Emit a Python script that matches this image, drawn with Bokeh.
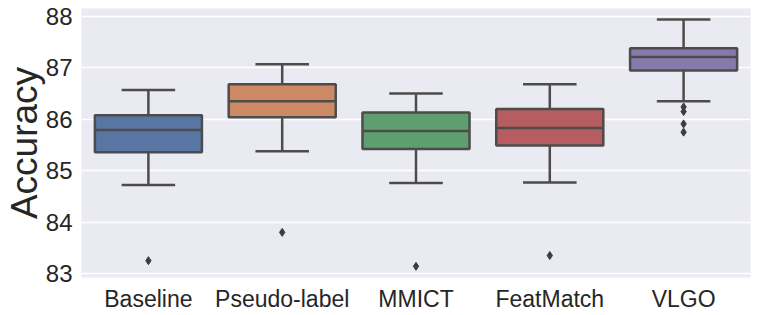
from bokeh.plotting import figure
from bokeh.models import FactorRange, Range1d, ColumnDataSource, FixedTicker
from bokeh.transform import dodge
from bokeh.embed import file_html
from bokeh.resources import INLINE

categories = ["Baseline", "Pseudo-label", "MMICT", "FeatMatch", "VLGO"]
whisker_low = [84.72, 85.38, 84.76, 84.77, 86.35]
q1 = [85.36, 86.04, 85.42, 85.49, 86.95]
median = [85.79, 86.35, 85.77, 85.83, 87.21]
q3 = [86.08, 86.68, 86.13, 86.20, 87.38]
whisker_high = [86.57, 87.07, 86.50, 86.68, 87.94]
outlier_cat = ["Baseline", "Pseudo-label", "MMICT", "FeatMatch", "VLGO", "VLGO", "VLGO", "VLGO"]
outlier_val = [83.25, 83.80, 83.14, 83.35, 86.24, 86.15, 85.91, 85.75]
colors = ["#5975a4", "#cc8963", "#5f9e6e", "#b55d60", "#857aab"]
y_ticks = [83, 84, 85, 86, 87, 88]

line_col = "#4c4c4c"
FONT = "Liberation Sans"

src = ColumnDataSource(dict(cat=categories, lo=whisker_low, q1=q1, med=median,
                            q3=q3, hi=whisker_high, color=colors))
osrc = ColumnDataSource(dict(cat=outlier_cat, val=outlier_val))

p = figure(x_range=FactorRange(*categories, range_padding=0.0),
           y_range=Range1d(82.922, 88.155),
           width=756, height=314, output_backend="svg", toolbar_location=None,
           min_border_top=8, min_border_right=6, min_border_bottom=37, min_border_left=81)

p.background_fill_color = "#eaeaf2"
p.border_fill_color = "white"
p.outline_line_color = None
p.xgrid.grid_line_color = None
p.ygrid.grid_line_color = "white"
p.ygrid.grid_line_width = 1.5
p.yaxis.ticker = FixedTicker(ticks=y_ticks)

for ax in (p.xaxis[0], p.yaxis[0]):
    ax.axis_line_color = None
    ax.major_tick_line_color = None
    ax.minor_tick_line_color = None
    ax.major_tick_out = 0
    ax.major_tick_in = 0
    ax.major_label_text_font = FONT
    ax.major_label_text_color = "#262626"
    ax.axis_label_text_font = FONT
    ax.axis_label_text_color = "#262626"
    ax.axis_label_text_font_style = "normal"

p.yaxis.major_label_text_font_size = "24px"
p.xaxis.major_label_text_font_size = "23px"
p.yaxis.major_label_standoff = 9
p.xaxis.major_label_standoff = 8
p.yaxis.axis_label = "Accuracy"
p.yaxis.axis_label_text_font_size = "37px"
p.yaxis.axis_label_standoff = -2

# whiskers
p.segment(x0="cat", x1="cat", y0="q3", y1="hi", source=src, line_color=line_col, line_width=2.5)
p.segment(x0="cat", x1="cat", y0="lo", y1="q1", source=src, line_color=line_col, line_width=2.5)
# caps
p.segment(x0=dodge("cat", -0.2, range=p.x_range), x1=dodge("cat", 0.2, range=p.x_range),
          y0="hi", y1="hi", source=src, line_color=line_col, line_width=2.5)
p.segment(x0=dodge("cat", -0.2, range=p.x_range), x1=dodge("cat", 0.2, range=p.x_range),
          y0="lo", y1="lo", source=src, line_color=line_col, line_width=2.5)
# boxes
p.vbar(x="cat", width=0.8, bottom="q1", top="q3", source=src, fill_color="color",
       line_color=line_col, line_width=2.5)
# medians
p.segment(x0=dodge("cat", -0.4, range=p.x_range), x1=dodge("cat", 0.4, range=p.x_range),
          y0="med", y1="med", source=src, line_color=line_col, line_width=2.5)
# outliers
p.scatter(x="cat", y="val", source=osrc, marker="diamond", size=8,
          fill_color="#3d3d3d", line_color="#3d3d3d")

open("out.html", "w").write(file_html(p, INLINE))
